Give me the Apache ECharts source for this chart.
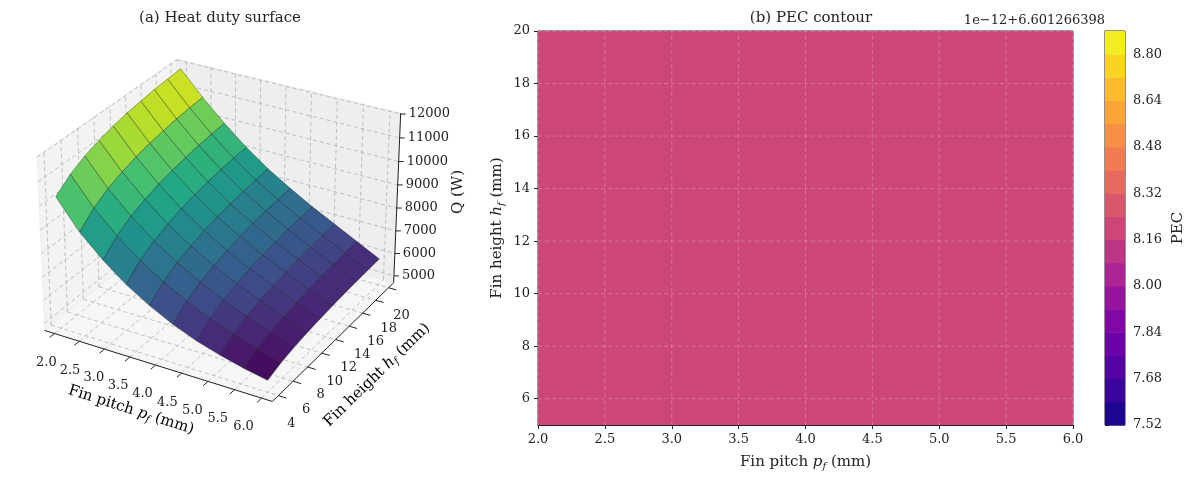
<!DOCTYPE html>
<html><head><meta charset="utf-8">
<script src="https://cdn.jsdelivr.net/npm/echarts@6/dist/echarts.min.js"></script>
<style>html,body{margin:0;padding:0;background:#fff}#c{width:1200px;height:481px}</style>
</head><body><div id="c"></div>
<script>
// ---- data ----
const finPitch = [2.0, 2.444, 2.889, 3.333, 3.778, 4.222, 4.667, 5.111, 5.556, 6.0];
const finHeight = [4, 5.778, 7.556, 9.333, 11.111, 12.889, 14.667, 16.444, 18.222, 20];
// heatDuty[i][j]: pf index i, hf index j (W)
const heatDuty = [
 [10300,10780,11100,11320,11500,11630,11720,11800,11850,11900],
 [9100, 9640,10000,10250,10450,10590,10700,10790,10850,10900],
 [8200, 8740, 9100, 9350, 9550, 9690, 9800, 9890, 9950,10000],
 [7450, 7980, 8330, 8570, 8760, 8900, 9010, 9100, 9150, 9200],
 [6850, 7350, 7680, 7910, 8090, 8220, 8320, 8400, 8450, 8500],
 [6350, 6820, 7130, 7340, 7510, 7640, 7730, 7810, 7850, 7900],
 [5950, 6370, 6650, 6850, 7000, 7110, 7200, 7270, 7310, 7350],
 [5650, 6010, 6250, 6420, 6550, 6650, 6720, 6780, 6810, 6850],
 [5400, 5690, 5880, 6010, 6110, 6190, 6250, 6290, 6320, 6350],
 [5200, 5400, 5530, 5620, 5690, 5740, 5780, 5810, 5830, 5850]
];
const pfTicks = [2.0,2.5,3.0,3.5,4.0,4.5,5.0,5.5,6.0];
const hfTicks = [4,6,8,10,12,14,16,18,20];
const qTicks = [5000,6000,7000,8000,9000,10000,11000,12000];
const pecOffsetText = '1e\u221212+6.601266398';
const pecValue = 8.2; // offset units, constant over the field
const pecXRange = [2, 6];
const pecYRange = [5, 20];
const pecXTicks = [2.0,2.5,3.0,3.5,4.0,4.5,5.0,5.5,6.0];
const pecYTicks = [6,8,10,12,14,16,18,20];
const pecLevels = [7.52,7.60,7.68,7.76,7.84,7.92,8.00,8.08,8.16,8.24,8.32,8.40,8.48,8.56,8.64,8.72,8.80,8.88];

// ---- color maps ----
function hex2rgb(h){return [parseInt(h.substr(1,2),16),parseInt(h.substr(3,2),16),parseInt(h.substr(5,2),16)];}
function cmap(anchors,t){t=Math.max(0,Math.min(1,t));const n=anchors.length-1;const k=Math.min(n-1,Math.floor(t*n));const f=t*n-k;
 const a=hex2rgb(anchors[k]),b=hex2rgb(anchors[k+1]);return 'rgb('+a.map((v,i)=>Math.round(v+(b[i]-v)*f)).join(',')+')';}
const viridis=['#440154','#482475','#414487','#355f8d','#2a788e','#21918c','#22a884','#44bf70','#7ad151','#bddf26','#fde725'];
const plasma=['#0d0887','#41049d','#6a00a8','#8f0da4','#b12a90','#cc4778','#e16462','#f2844b','#fca636','#fcce25','#f0f921'];

// ---- 3D projection (box limits, camera calibrated to the reference box corners) ----
const pfLim=[1.8,6.2], hfLim=[3.2,20.8], zLim=[4690,12040];
const AZ=-60*Math.PI/180;
let EL=30*Math.PI/180, D=6, K=130, CX=220, CY=216;
function raw(u,v,w,el,dd){
 const sx=u*(-Math.sin(AZ))+v*Math.cos(AZ);
 const sy=u*(-Math.sin(el)*Math.cos(AZ))+v*(-Math.sin(el)*Math.sin(AZ))+w*Math.cos(el);
 const d=u*Math.cos(el)*Math.cos(AZ)+v*Math.cos(el)*Math.sin(AZ)+w*Math.sin(el);
 const p=dd/(dd-d);return [sx*p,sy*p,d];
}
(function calibrate(){
 const ref=[[-1,-1,-.75,42,327],[-1,-1,.75,33,160],[1,-1,-.75,275,398],[1,1,-.75,397,279],[1,1,.75,403,117],[-1,1,.75,175,62]];
 let best=1e18;
 for(let e=15;e<=45;e+=0.5)for(let dd=2.5;dd<=30;dd+=0.25){
  const el=e*Math.PI/180;
  let n=0,sa=0,sb=0,sX=0,sY=0,saX=0,sbY=0,saa=0,sbb=0;
  const pr=ref.map(r=>raw(r[0],r[1],r[2],el,dd));
  ref.forEach((r,i)=>{const a=pr[i][0],b=pr[i][1];n++;sa+=a;sb+=b;sX+=r[3];sY+=r[4];saX+=a*r[3];sbY+=b*r[4];saa+=a*a;sbb+=b*b;});
  const mA=sa/n,mB=sb/n,mX=sX/n,mY=sY/n;
  const k=((saX-n*mA*mX)-(sbY-n*mB*mY))/((saa-n*mA*mA)+(sbb-n*mB*mB));
  const cx=mX-k*mA, cy=mY+k*mB;
  let err=0;ref.forEach((r,i)=>{err+=Math.pow(cx+k*pr[i][0]-r[3],2)+Math.pow(cy-k*pr[i][1]-r[4],2);});
  if(err<best){best=err;EL=el;D=dd;K=k;CX=cx;CY=cy;}
 }
})();
function proj(pf,hf,q){
 const u=((pf-pfLim[0])/(pfLim[1]-pfLim[0]))*2-1, v=((hf-hfLim[0])/(hfLim[1]-hfLim[0]))*2-1, w=(((q-zLim[0])/(zLim[1]-zLim[0]))*2-1)*0.75;
 const r=raw(u,v,w,EL,D);
 return {x:CX+K*r[0],y:CY-K*r[1],d:r[2]};
}
const quads=[];
for(let i=0;i<finPitch.length-1;i++)for(let j=0;j<finHeight.length-1;j++){
 const c=proj((finPitch[i]+finPitch[i+1])/2,(finHeight[j]+finHeight[j+1])/2,(heatDuty[i][j]+heatDuty[i+1][j+1])/2);
 quads.push([i,j,c.d]);
}
quads.sort((a,b)=>a[2]-b[2]);
const allQ=[].concat(...heatDuty);
const qmin=Math.min(...allQ),qmax=Math.max(...allQ);

const serif="'DejaVu Serif', serif";
const gridLine={stroke:'#b0b0b0',lineWidth:0.8,lineDash:[4,3]};
const [X0,X1]=pfLim,[Y0,Y1]=hfLim,[Z0,Z1]=zLim;

function renderBox(params,api){
 const P=(a,b,c)=>{const r=proj(a,b,c);return api.coord([r.x,r.y]);};
 const ch=[];
 const poly=(pts,fill)=>ch.push({type:'polygon',shape:{points:pts},style:{fill:fill,stroke:'#e6e6e6',lineWidth:0.5}});
 poly([P(X0,Y0,Z0),P(X0,Y1,Z0),P(X0,Y1,Z1),P(X0,Y0,Z1)],'#f3f3f3');
 poly([P(X0,Y1,Z0),P(X1,Y1,Z0),P(X1,Y1,Z1),P(X0,Y1,Z1)],'#eeeeee');
 poly([P(X0,Y0,Z0),P(X1,Y0,Z0),P(X1,Y1,Z0),P(X0,Y1,Z0)],'#f6f6f6');
 const line=(a,b,st)=>ch.push({type:'line',shape:{x1:a[0],y1:a[1],x2:b[0],y2:b[1]},style:st});
 pfTicks.forEach(t=>{line(P(t,Y0,Z0),P(t,Y1,Z0),gridLine);line(P(t,Y1,Z0),P(t,Y1,Z1),gridLine);});
 hfTicks.forEach(t=>{line(P(X0,t,Z0),P(X1,t,Z0),gridLine);line(P(X0,t,Z0),P(X0,t,Z1),gridLine);});
 qTicks.forEach(t=>{line(P(X0,Y0,t),P(X0,Y1,t),gridLine);line(P(X0,Y1,t),P(X1,Y1,t),gridLine);});
 const ax={stroke:'#222',lineWidth:1};
 line(P(X0,Y0,Z0),P(X1,Y0,Z0),ax);
 line(P(X1,Y0,Z0),P(X1,Y1,Z0),ax);
 line(P(X1,Y1,Z0),P(X1,Y1,Z1),ax);
 const txt=(p,s,align)=>ch.push({type:'text',x:p[0],y:p[1],style:{text:s,fill:'#222',font:'13px '+serif,align:align||'center',verticalAlign:'middle'}});
 pfTicks.forEach(t=>{const a=P(t,Y0,Z0),b=P(t,Y0-0.6,Z0);line(a,b,ax);txt([a[0]-8-10*(t-2)/4,a[1]+29],t.toFixed(1));});
 hfTicks.forEach(t=>{const a=P(X1,t,Z0),b=P(X1+0.15,t,Z0);line(a,b,ax);txt([a[0]+13,a[1]+28],String(t));});
 qTicks.forEach(t=>{const a=P(X1,Y1,t);line(a,[a[0]+5,a[1]],ax);txt([a[0]+8,a[1]],String(t),'left');});
 return {type:'group',children:ch};
}
function renderQuad(params,api){
 const i=api.value(0),j=api.value(1);
 const P=(a,b)=>{const r=proj(finPitch[a],finHeight[b],heatDuty[a][b]);return api.coord([r.x,r.y]);};
 const avg=(heatDuty[i][j]+heatDuty[i+1][j]+heatDuty[i][j+1]+heatDuty[i+1][j+1])/4;
 return {type:'polygon',shape:{points:[P(i,j),P(i+1,j),P(i+1,j+1),P(i,j+1)]},
  style:{fill:cmap(viridis,(avg-qmin)/(qmax-qmin)),stroke:'rgba(0,0,0,0.55)',lineWidth:0.6}};
}
function renderPec(params,api){
 const a=api.coord([pecXRange[0],pecYRange[1]]),b=api.coord([pecXRange[1],pecYRange[0]]);
 const idx=pecLevels.findIndex((l,k)=>pecValue>=l&&pecValue<pecLevels[k+1]);
 const ch=[{type:'rect',shape:{x:a[0],y:a[1],width:b[0]-a[0],height:b[1]-a[1]},style:{fill:cmap(plasma,(idx+0.5)/(pecLevels.length-1))}}];
 const gl={stroke:'rgba(255,255,255,0.3)',lineWidth:0.8,lineDash:[4,3]};
 pecXTicks.forEach(t=>{const p=api.coord([t,pecYRange[0]]),q=api.coord([t,pecYRange[1]]);ch.push({type:'line',shape:{x1:p[0],y1:p[1],x2:q[0],y2:q[1]},style:gl});});
 pecYTicks.forEach(t=>{const p=api.coord([pecXRange[0],t]),q=api.coord([pecXRange[1],t]);ch.push({type:'line',shape:{x1:p[0],y1:p[1],x2:q[0],y2:q[1]},style:gl});});
 return {type:'group',children:ch};
}
function renderBand(params,api){
 const lo=api.value(0),hi=api.value(1),k=api.value(2);
 const a=api.coord([0,hi]),b=api.coord([1,lo]);
 return {type:'rect',shape:{x:a[0],y:a[1],width:b[0]-a[0],height:b[1]-a[1]+0.5},style:{fill:cmap(plasma,(k+0.5)/(pecLevels.length-1))}};
}
const bands=pecLevels.slice(0,-1).map((l,k)=>[l,pecLevels[k+1],k]);

const rich={a:{fontFamily:serif,fontSize:15,color:'#222'},i:{fontFamily:serif,fontSize:15,fontStyle:'italic',color:'#222'},s:{fontFamily:serif,fontSize:10,fontStyle:'italic',color:'#222',padding:[8,0,0,0]}};
const chart=echarts.init(document.getElementById('c'));
chart.setOption({
 animation:false,
 title:[
  {text:'(a) Heat duty surface',left:215,top:6,textAlign:'center',textStyle:{fontFamily:serif,fontSize:15,fontWeight:'normal',color:'#222'}},
  {text:'(b) PEC contour',left:806,top:6,textAlign:'center',textStyle:{fontFamily:serif,fontSize:15,fontWeight:'normal',color:'#222'}},
  {text:pecOffsetText,left:1100,top:9,textAlign:'right',textStyle:{fontFamily:serif,fontSize:13,fontWeight:'normal',color:'#222'}}
 ],
 grid:[
  {left:0,top:0,width:1200,height:481},
  {left:538,top:31,width:535,height:394,show:true,borderColor:'#222',borderWidth:1,backgroundColor:'transparent'},
  {left:1105,top:31,width:20,height:394,show:true,borderColor:'#222',borderWidth:1}
 ],
 xAxis:[
  {gridIndex:0,type:'value',min:0,max:1200,show:false},
  {gridIndex:1,type:'value',min:2,max:6,interval:0.5,
   axisLine:{lineStyle:{color:'#222'}},axisTick:{lineStyle:{color:'#222'},length:4},
   axisLabel:{fontFamily:serif,fontSize:13,color:'#222',formatter:v=>v.toFixed(1)},
   splitLine:{show:false},
   name:'{a|Fin pitch }{i|p}{s|f}{a| (mm)}',nameLocation:'middle',nameGap:28,nameTextStyle:{rich:rich}},
  {gridIndex:2,type:'value',min:0,max:1,show:false}
 ],
 yAxis:[
  {gridIndex:0,type:'value',min:0,max:481,inverse:true,show:false},
  {gridIndex:1,type:'value',min:5,max:20,
   axisLine:{show:true,lineStyle:{color:'#222'}},
   axisTick:{show:true,lineStyle:{color:'#222'},length:4,customValues:pecYTicks},
   axisLabel:{fontFamily:serif,fontSize:13,color:'#222',customValues:pecYTicks},
   splitLine:{show:false},
   name:'{a|Fin height }{i|h}{s|f}{a| (mm)}',nameLocation:'middle',nameGap:32,nameTextStyle:{rich:rich}},
  {gridIndex:2,type:'value',position:'right',min:7.52,max:8.88,interval:0.16,
   axisLine:{show:true,lineStyle:{color:'#222'}},axisTick:{show:true,lineStyle:{color:'#222'},length:4},
   axisLabel:{fontFamily:serif,fontSize:13,color:'#222',showMaxLabel:false,formatter:v=>v.toFixed(2)},
   splitLine:{show:false},
   name:'PEC',nameLocation:'middle',nameGap:46,nameRotate:90,nameTextStyle:{fontFamily:serif,fontSize:15,color:'#222'}}
 ],
 series:[
  {type:'custom',xAxisIndex:0,yAxisIndex:0,data:[[0]],renderItem:renderBox,silent:true,z:1},
  {type:'custom',xAxisIndex:0,yAxisIndex:0,data:quads,renderItem:renderQuad,silent:true,z:2},
  {type:'custom',xAxisIndex:1,yAxisIndex:1,data:[[0]],renderItem:renderPec,silent:true,z:1},
  {type:'custom',xAxisIndex:2,yAxisIndex:2,data:bands,renderItem:renderBand,silent:true,z:1}
 ],
 graphic:[
  {type:'text',x:131,y:410,rotation:-0.31,style:{text:'{a|Fin pitch }{i|p}{s|f}{a| (mm)}',rich:rich,align:'center',verticalAlign:'middle'},z:5},
  {type:'text',x:377,y:375,rotation:0.77,style:{text:'{a|Fin height }{i|h}{s|f}{a| (mm)}',rich:rich,align:'center',verticalAlign:'middle'},z:5},
  {type:'text',x:458,y:192,rotation:Math.PI/2,style:{text:'Q (W)',font:'15px '+serif,fill:'#222',align:'center',verticalAlign:'middle'},z:5}
 ]
});
</script></body></html>
